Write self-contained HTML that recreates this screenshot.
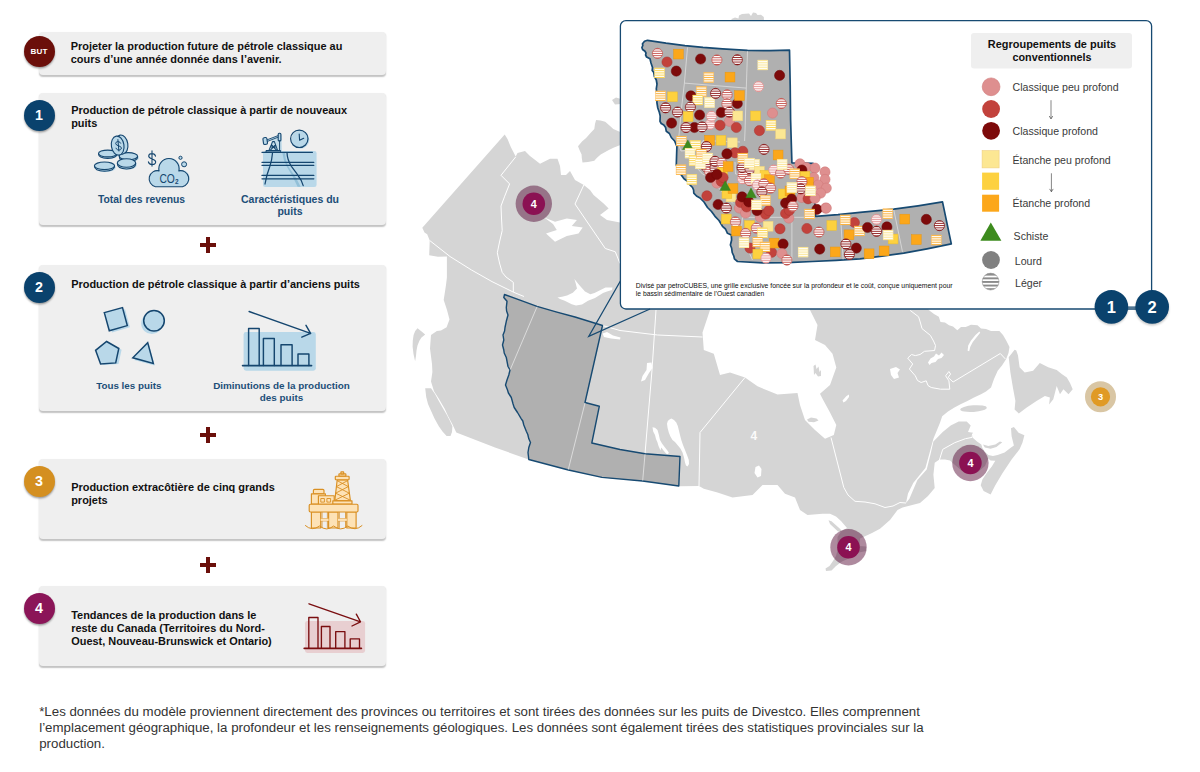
<!DOCTYPE html>
<html lang="fr">
<head>
<meta charset="utf-8">
<title>Production de pétrole classique</title>
<style>
html,body{margin:0;padding:0;background:#fff;}
body{width:1200px;height:772px;position:relative;overflow:hidden;font-family:"Liberation Sans",sans-serif;color:#111;}
.card{position:absolute;left:39.2px;width:347.2px;background:#efefef;border-radius:4px;box-shadow:0 1.6px 1.4px rgba(0,0,0,.24);}
.badge{position:absolute;left:23.5px;width:31px;height:31px;border-radius:50%;color:#fff;font-weight:bold;text-align:center;box-shadow:0 1.5px 2px rgba(0,0,0,.35);}
.t{position:absolute;left:71.2px;font-weight:bold;font-size:10.95px;line-height:13.2px;white-space:nowrap;color:#111;}
.lbl{position:absolute;font-weight:bold;font-size:10px;line-height:12px;color:#1c4e78;text-align:center;white-space:nowrap;}
.plus{position:absolute;left:199.9px;width:16px;height:16px;}
.plus:before{content:"";position:absolute;left:0;top:6.2px;width:16.1px;height:3.7px;background:#6b0f0a;}
.plus:after{content:"";position:absolute;left:6.2px;top:0;width:3.8px;height:16px;background:#6b0f0a;}
#foot{position:absolute;left:39.2px;top:704.3px;font-size:13.29px;line-height:16.05px;color:#333;white-space:nowrap;}
#gfx{position:absolute;left:0;top:0;}
</style>
</head>
<body>
<!-- cards -->
<div class="card" style="top:32px;height:43px"></div>
<div class="card" style="top:93px;height:132px"></div>
<div class="card" style="top:265px;height:146px"></div>
<div class="card" style="top:459px;height:80.3px"></div>
<div class="card" style="top:586px;height:79.7px"></div>

<div class="plus" style="top:237.2px"></div>
<div class="plus" style="top:427.1px"></div>
<div class="plus" style="top:557px"></div>

<!-- MAP-SVG -->
<svg id="gfx" width="1200" height="772" viewBox="0 0 1200 772">
<defs><filter id="blur" x="-30%" y="-30%" width="160%" height="160%"><feGaussianBlur stdDeviation="1.2"/></filter><filter id="blur2" x="-10%" y="-10%" width="120%" height="120%"><feGaussianBlur stdDeviation="0.45"/></filter></defs>
<g id="map"><path fill="#d5d5d5" d="M504.7,134.6 L507.5,139 L510.8,147 L515.7,156.5 L517.5,153 L525,151 L530,156 L540,163.8 L550,158.8 L557.5,158.8 L560,166 L561,175 L566,175 L570,171 L575,180 L583.8,185 L590,190 L593.6,195 L603.6,203.4 L608.6,208.4 L600,215 L607,220 L620,222.6 L700,222 L710,300 L710,310 L702.5,332.5 L703.8,350 L713.8,353.8 L720,375 L730,372.5 L745,377.5 L757.5,386.3 L777.5,394.5 L797.5,393 L800,405 L805,420 L815,430 L825,438.8 L833.8,435 L836.3,425 L830,412.5 L822.5,398.8 L820,393.8 L830,385 L836.3,367.5 L832.5,353.8 L825,345 L815,340 L817.5,325 L810,310 L810,300 L925,300 L928.7,310 L934,314 L938.8,316.8 L940.5,321.9 L945,322.5 L949,325.3 L953,326.5 L957.3,330.3 L961,327 L965.8,326.9 L971,324.8 L977.5,325.3 L981,328.6 L986,329 L991,331.1 L999.4,331.1 L1003,335 L1006.2,340.4 L1009.5,347.1 L1008.5,353 L1006.2,358.9 L1002,365.5 L997.7,370.7 L994,379 L991,387.5 L986,391.5 L981,394.3 L974,397.5 L967.4,401 L960.5,404.2 L954,407.7 L948,411.5 L942.2,416.2 L940,422.7 L933.4,438.7 L929.4,453.4 L925.4,468 L913.4,482.7 L908,493.4 L906,503 L909.4,498.7 L917.4,480 L926.7,469.4 L930.7,453.4 L933.4,441.4 L942.7,432 L950.7,425.4 L958.7,421.4 L966.7,421.4 L970.7,425.4 L968,432 L973.1,432.8 L972.5,437.5 L977,441.5 L981.3,444.5 L982.4,448 L985,452 L988.3,455 L992.9,456.1 L997.6,455 L1004.6,452.6 L1010.4,448 L1013.9,445.6 L1011.6,436.3 L1011,428.2 L1013.9,427 L1018.6,432.8 L1024.4,435.2 L1022.5,442.5 L1019.7,449.1 L1011.6,459.6 L1002.3,473.6 L995.3,485.3 L990.6,494.6 L983.6,491.1 L980.7,485.3 L982.4,479.4 L987.1,472.4 L991.8,466.6 L995.3,460.8 L990.5,460.5 L988.3,458.5 L985,466 L978,472 L971,474 L962,471 L955,465 L950,460.5 L945,459.4 L939.4,459.4 L934.7,462.7 L933.4,474.7 L934.7,488 L928,496 L920,503 L902.5,507.5 L897.5,510 L890,520 L880,528.8 L872,533 L865,536.3 L860,538.5 L859.5,546 L866,546.5 L866.2,551 L859,552.5 L852,557 L842,561.5 L836,566 L831.5,570.5 L826,571 L825.5,568.5 L829.5,566 L833,561 L836,556 L837.5,550 L837.5,537 L841,531.5 L847,528 L841,521 L836,516.5 L830,513.8 L822.5,513.8 L807.5,515 L800,510 L795,497.5 L785,493.8 L777.5,485 L762.5,485 L752.5,495 L732.5,497.5 L717.5,492.5 L703.8,488.8 L699,486 L679,486.3 L642.5,481 L602,477.4 L568.4,470 L528.6,459.5 L495,447.5 L456.3,432.5 L452.4,424.3 L448,416 L444.7,408.7 L439,399 L434,391.3 L431,381.6 L432.4,372 L432,364 L430,348.5 L431,335 L436.9,331 L441,330.5 L446.6,327.2 L449.5,319.4 L447,310 L443.7,300 L446,285 L446.9,277.4 L446.9,256.5 L438,256.8 L429.2,255.2 L429.7,240.5 L427.2,234.3 L424.5,232.5 L422.3,227.7Z"/>
<path fill="#d5d5d5" d="M425.2,388.3 L431,388.3 L435,394 L438.8,401 L442.5,407.5 L446.6,414.6 L449.5,420 L452.4,426.2 L452,432 L450.5,436 L446.6,436 L442.5,431.5 L438.8,426.2 L434.5,418.5 L431,410.7 L428,404 L426.2,397Z M417.5,328.2 L421,331 L425.2,334.6 L421.5,337.5 L419.4,340.8 L417.5,345.5 L416.5,350.5 L416,356 L415.1,361.2 L413.5,354 L412.6,346.6 L412.8,340.5 L413.6,335 L415.2,331Z M578,146.2 L582,141.5 L586.1,138.1 L590.5,133 L594.3,129 L595,124 L596.1,120 L600.5,120.6 L605.2,121.8 L609.5,125.5 L613.3,129 L619.7,131.7 L622,132 L622,145 L619.7,145.3 L614,147.5 L608.8,149.9 L600.7,154.4 L597,157.8 L594.3,160.8 L588,162 L582.5,162.6 L581.8,158 L581.6,154.4 L579.5,150Z M612,100 L616,97.6 L621,99 L621,104 L615,104.4Z M731.5,19 L735,17.5 L738.5,18.5 L739,15.5 L742,14 L749,13.6 L751,16 L753,12.6 L756,12.9 L757.5,15 L761,14.8 L763.8,17 L764,21 L731.5,21Z M1014.6,349.7 L1008.7,357.2 L1010.4,372.4 L1012.9,387.5 L1015.4,401 L1014.6,409.4 L1018.8,413.6 L1026.4,407.7 L1036.5,401 L1044.9,396 L1049.9,397.6 L1049.1,404.4 L1053.3,399.3 L1056.7,385.9 L1060,394.3 L1063.4,389.2 L1068.5,394.3 L1072.7,389.2 L1070,383 L1066.8,377.4 L1061.7,374.1 L1056.7,369.9 L1048.2,367.3 L1039.8,363.1 L1033.1,370.7 L1024.7,372.4 L1019.6,367.3 L1018,355.6 L1016.3,350.5Z M807,419.5 L811,417.6 L816.5,418.4 L818.5,420.4 L814,422.2 L808.5,421.8Z M813.5,366 L815.5,364.5 L816.5,369 L818.5,366.5 L819.5,372 L821,370 L821,376 L818,376.5 L815.5,373 L814,375Z M828.5,520.2 L831.5,521.3 L836,525.3 L840.5,529.3 L842,532 L838,531.5 L834,527.7 L830,524Z M983,444.5 L984.8,447.4 L990.6,448.8 L996.4,447 L1002.3,442.3 L999.9,441.4 L995.3,444.6 L988.3,445.9Z"/>
<ellipse cx="973.5" cy="408.6" rx="13.3" ry="3.3" fill="#d5d5d5" transform="rotate(-4 973.5 408.6)"/>
<path fill="#fff" d="M544.3,217.6 L555,221.8 L566.8,218.4 L576.9,220 L571.8,226 L582.7,227.6 L578.5,233.5 L566.8,236 L555,241.8 L546,233.5 L556.8,230 L553,224Z M557.5,297.6 L562,296.8 L567,295.6 L572.8,292.7 L577,288.6 L575.6,283 L574.4,279 L576.8,282 L579.2,285 L585,291.5 L590.3,294.2 L594.5,293 L598.5,291 L605.5,287.6 L612.5,287.6 L612,290 L607,291.6 L603,293 L599,295.6 L595,298 L588,300.8 L582,304.6 L576,305.4 L571.7,304.3 L564.7,300.8 L560,299Z M602.5,333.5 L607,332 L613,335.5 L620.5,337.5 L620,339.5 L611,338.5 L604,337Z M647,363 L651.5,362.5 L652.5,368 L649,373 L645,380 L641,381.5 L642.5,376 L646.5,370Z M669.5,419.6 L671.3,418.6 L674,420 L676.3,422.5 L677.8,426 L678.8,430 L680,435 L681.3,440 L683,445 L685,450 L687,455 L688.8,460 L689,464 L687.5,466.5 L686,465.5 L685,462.5 L684,457.5 L682.5,452.5 L680.4,448.5 L677.5,445 L675,442 L672.5,440 L670.4,436.5 L668.8,432.5 L667.6,428 L667,423.8 L667.8,421Z M652.5,427.3 L655,427.8 L657.5,430 L658.8,434.5 L660,440 L662,443.5 L665,447.5 L667,450 L668.8,452.5 L668,454.2 L666.3,453.8 L663.5,450.5 L661.3,447.5 L660.5,450.5 L658.5,446 L657.5,442.5 L656,439 L655,435 L653.2,431.5Z M755.5,467 L759,465.5 L761.5,469 L761,476 L757.5,477.5 L754.5,473Z M890,369 L896,367 L900,369.5 L897.5,373 L899,377.5 L894,379 L891,375Z M842.5,400.5 L846.5,396 L849,394.5 L849,397 L846,401 L843.5,402.5Z M967.6,350.8 L968.2,345.5 L971,340.5 L975.5,335 L979.4,331.6 L980.2,332.8 L976.8,337 L972.8,342 L970.2,347 L969.2,351.2Z M928,362.5 L930.5,358.5 L934,356.5 L936,353.5 L939,355.5 L941.5,352.5 L944,355 L941.5,358 L938,359 L935.5,362 L931.5,363 L929.5,365Z"/>
<path fill="none" stroke="#fff" stroke-width="1" stroke-linejoin="round" d="M515.7,156.9 L501,175.3 L509.6,183.9 L504.7,196.2 L501,206 L501.5,218 L502.2,230.6 L499.5,242 L497.3,252.8 L499.5,263 L502.2,272.4 L506,277 L513.3,282.3 L513.3,292.1 M429.7,240.5 L450,256.5 L471.5,270 L492,281.6 L513.3,292.1 L524,296.5 M602.5,325.5 L620,330.5 L657.5,335 L702.5,337 M583.8,185 L575,204 L605.3,248.5 L615.3,251.8 L620,263.5 M656,310 L652,370 L645,453.8 L642.5,481 M537,306.3 L510,370 M585,402.5 L568,470 M745,377.5 L700,432.5 L699,486 M831,437.5 L843.8,487.5 L848,495 L855,501.3 L865,502 L875,503.8 L885,507.5 L893,506 L900,502.5 L906,503 M910.2,310.4 L918.6,316.8 L920.5,323 L922,328.6 L930.4,335.4 L933.5,341 L935.5,345.5 L934.6,350.5 L924.5,351.3 L920,354.5 L915.3,355.6 L911.5,354.5 L907.7,358.1 L912.7,364 L909.4,369 L915.3,375.8 L917.5,380.5 L921.1,382.5 L926.2,380.8 L928,385.5 L931.2,387.5 L940.5,389.2 L949.8,389.2 L948.9,380.8 L945.6,375.8 L948.9,371.5 L950.6,374.1 L948.1,377.4 L953.1,382 L1000.3,353.5 L1005.3,358.9 M939.4,460 L942.7,449.4 L954.7,442.7 L965.4,438.7 L972,437.4 L972.7,433.4"/>
<path fill="#b0b0b0" stroke="#174a72" stroke-width="1.4" stroke-linejoin="round" d="M504.5,294.5 L520,300.2 L537,306.3 L556,311.8 L575,317 L602.5,325.5 L585,402.5 L599.3,406.3 L591.8,443 L620,449.5 L645,453.8 L680,456.5 L678.8,486 L642.5,481 L602,477.4 L568.4,470 L528.8,459.5 L528,452.5 L528.8,447.5 L530.5,442.5 L528.8,438.8 L527.8,434.5 L526.3,431.3 L523.8,425 L522.8,421 L521.3,418.8 L517.5,412.5 L514.2,407.5 L513,403.8 L511.3,397.5 L508.4,393 L507.5,390 L505.5,385 L507,380 L508.8,375 L510,370 L508,366.5 L507.5,363.8 L506.3,357.5 L504.2,353 L503.8,350 L502.5,345 L503.8,340 L503,335 L504.6,331 L505,327.5 L506.3,321.3 L508,315 L506.6,311 L506.3,307.5 L507,301.3 L503.8,297.5Z"/>
<path fill="none" stroke="#e6e6e6" stroke-width="0.8" d="M537,306.8 L510.3,369.5 M585,403 L568.3,469.5 M645,454.3 L642.7,480.5"/>
<text x="753.8" y="440" font-family="Liberation Sans, sans-serif" font-weight="bold" font-size="12" fill="#ffffff" fill-opacity=".92" text-anchor="middle">4</text>
</g>
<defs>
<clipPath id="cc"><circle r="5.2"/></clipPath>
<clipPath id="cq"><rect x="-5" y="-5" width="10" height="10"/></clipPath>
<g id="bands"><rect x="-6" y="-6" width="12" height="1.9"/><rect x="-6" y="-2.7" width="12" height=".9"/><rect x="-6" y="-0.45" width="12" height=".9"/><rect x="-6" y="1.8" width="12" height=".9"/><rect x="-6" y="4.1" width="12" height="1.9"/></g>
<g id="c1"><circle r="5.1" fill="#de8f8f" stroke="#cf7676" stroke-width=".5"/></g>
<g id="c2"><circle r="5.1" fill="#c2423c" stroke="#a93430" stroke-width=".5"/></g>
<g id="c3"><circle r="5.1" fill="#7d0a0a" stroke="#6c0808" stroke-width=".5"/></g>
<g id="s1"><circle r="5.2" fill="#fdf3f3"/><g clip-path="url(#cc)" fill="#e59a9a"><use href="#bands"/></g><circle r="5.1" fill="none" stroke="#d97f7f" stroke-width=".6"/></g>
<g id="s2"><circle r="5.2" fill="#fff"/><g clip-path="url(#cc)" fill="#c5524c"><use href="#bands"/></g><circle r="5.1" fill="none" stroke="#b8403b" stroke-width=".6"/></g>
<g id="s3"><circle r="5.2" fill="#fff"/><g clip-path="url(#cc)" fill="#8e1a1a"><use href="#bands"/></g><circle r="5.1" fill="none" stroke="#7d0a0a" stroke-width=".7"/></g>
<g id="q1"><rect x="-4.9" y="-4.9" width="9.8" height="9.8" fill="#fce793" stroke="#efd27c" stroke-width=".5"/></g>
<g id="q2"><rect x="-4.9" y="-4.9" width="9.8" height="9.8" fill="#fdd13f" stroke="#eabd33" stroke-width=".5"/></g>
<g id="q3"><rect x="-4.9" y="-4.9" width="9.8" height="9.8" fill="#fca71a" stroke="#e89712" stroke-width=".5"/></g>
<g id="t1"><rect x="-5" y="-5" width="10" height="10" fill="#fffdf3"/><g clip-path="url(#cq)" fill="#fbe596"><use href="#bands"/></g><rect x="-4.9" y="-4.9" width="9.8" height="9.8" fill="none" stroke="#fae59a" stroke-width=".5"/></g>
<g id="t2"><rect x="-5" y="-5" width="10" height="10" fill="#fffdf3"/><g clip-path="url(#cq)" fill="#fcd450"><use href="#bands"/></g><rect x="-4.9" y="-4.9" width="9.8" height="9.8" fill="none" stroke="#fcd65c" stroke-width=".5"/></g>
<g id="t3"><rect x="-5" y="-5" width="10" height="10" fill="#fffaf0"/><g clip-path="url(#cq)" fill="#fbb03a"><use href="#bands"/></g><rect x="-4.9" y="-4.9" width="9.8" height="9.8" fill="none" stroke="#fbb548" stroke-width=".5"/></g>
<g id="g"><path d="M0,-5.4 L5.3,4.2 L-5.3,4.2Z" fill="#3d8b1e" stroke="#347a18" stroke-width=".4"/></g>
</defs>
<g id="inset">
<rect x="620.4" y="20.6" width="531.2" height="288.4" rx="5.5" fill="#fff" stroke="#174a72" stroke-width="1.3"/>
<path d="M620.4,281 L588.8,336.3 L650,309" fill="none" stroke="#174a72" stroke-width="1.3" stroke-linejoin="miter"/>
<path d="M647.5,40.3 L666,43.2 L685,45.6 L703,47.4 L722.5,48.8 L747.5,50.4 L770,50.6 L789.5,50.2 L790.2,85 L790.6,120 L791.9,162.8 L813.1,163.3 L815,205 L815.6,216.3 L838,214.6 L860,212.3 L893.8,209.2 L918,205.8 L942.5,201.9 L951.3,243.8 L927,248.8 L903.8,253.1 L882,256.2 L860,258.8 L836,260.4 L812.5,261.5 L787.5,262.6 L762.5,262.8 L737.5,261.5 L734.4,258.8 L733.8,256 L732.2,252.5 L731.6,248 L730.4,245 L731.6,240 L731.3,235 L727.5,233.3 L725.5,229 L722.5,226.3 L719,220.5 L715,216.3 L711.5,211.5 L707.5,207.5 L704,202 L700,198 L696.5,196 L693.8,193.1 L693.6,190 L692.5,187.5 L689.5,184.5 L687.5,181.3 L684,178.8 L681.3,175 L678.4,170.5 L676.3,165 L676.6,155 L676.9,146.3 L674.6,141 L671.3,137.5 L669.4,133.5 L666.3,131.3 L665.6,127.5 L663.8,125 L661.2,123.5 L660,121.3 L660.2,116 L659.4,112.5 L657.8,108 L656.9,102.5 L657.2,96 L656.3,88.8 L657,84 L656.3,80 L654.4,76.5 L653.8,72.5 L652.2,70.5 L652.5,67.5 L651,63 L650,58.8 L646.6,57 L645.6,55 L646,53 L645,51.3 L642.6,49.5 L641.9,47.5 L642.8,45.5 L642.5,43.8 L644.5,41.3Z" fill="#b0b0b0" stroke="#174a72" stroke-width="1.7" stroke-linejoin="round"/>
<path d="M687.5,47.5 L684.4,83.1 L681.3,110 L679.4,131 L678.2,143 M684.4,83.1 L746.3,88.1 M747.5,51.3 L746.3,88.1 L745,131 L744.6,141 M742.5,217.3 L803.8,217.3 M791.9,217.5 L791.9,261.3 M840.6,216.3 L843.1,259.4 M893.8,210 L902.5,251.9 M742.5,217.3 L741.3,230 L746,245 L752.5,260 M782.5,208 L782.5,217.3 M678.2,143 L681,151 L697,149.5 L703,140.5 L740,142 M697,168 L703,174.5 L706,175 M735,162 L735.5,174 L744,174.5 M718,187 L722,192 L733,203.5" fill="none" stroke="#dedede" stroke-width=".8"/>
<g id="mk"><use href="#s2" x="657.5" y="53.4"/><use href="#q3" x="678.5" y="54.1"/><use href="#c2" x="667" y="62"/><use href="#c3" x="676.3" y="71.1"/><use href="#t2" x="659.5" y="72.9"/><use href="#c3" x="700.6" y="59"/><use href="#s2" x="716.9" y="60"/><use href="#s3" x="737.3" y="59.8"/><use href="#t3" x="708.8" y="77.5"/><use href="#q3" x="730" y="77.1"/><use href="#t1" x="762.8" y="65"/><use href="#c3" x="779.6" y="75.4"/><use href="#s1" x="758.5" y="86.5"/><use href="#t3" x="660.6" y="95.9"/><use href="#q2" x="672.5" y="96.8"/><use href="#c3" x="690.9" y="95.9"/><use href="#t3" x="701.3" y="91.5"/><use href="#t2" x="697.8" y="100"/><use href="#t1" x="709.6" y="102.5"/><use href="#s3" x="715.6" y="93.4"/><use href="#c3" x="737.3" y="103.5"/><use href="#s2" x="727.1" y="94.8"/><use href="#q3" x="739.4" y="95.6"/><use href="#s2" x="726.9" y="103.8"/><use href="#s3" x="665.6" y="107.8"/><use href="#s3" x="677.5" y="112.1"/><use href="#s3" x="690.4" y="107.1"/><use href="#q2" x="688.1" y="116.6"/><use href="#c3" x="699.6" y="115"/><use href="#c1" x="729.4" y="121.3"/><use href="#s1" x="710" y="124.4"/><use href="#s1" x="711.5" y="116.3"/><use href="#c3" x="721.3" y="112.5"/><use href="#s3" x="729.4" y="112.1"/><use href="#q1" x="737.8" y="115.9"/><use href="#q2" x="755.6" y="115.9"/><use href="#c1" x="772.5" y="113.1"/><use href="#s2" x="781.3" y="103.5"/><use href="#c3" x="671.6" y="123.1"/><use href="#c3" x="694.4" y="127.5"/><use href="#s3" x="686" y="127.5"/><use href="#s3" x="702.1" y="126.9"/><use href="#c2" x="720" y="125.3"/><use href="#c2" x="736.3" y="127.5"/><use href="#t2" x="771" y="125.3"/><use href="#c2" x="759.4" y="130.6"/><use href="#q1" x="780.6" y="134"/><use href="#t3" x="681.3" y="141"/><use href="#t2" x="695.4" y="145.6"/><use href="#g" x="687.8" y="145.3"/><use href="#q3" x="709.6" y="140.3"/><use href="#q2" x="721" y="140.3"/><use href="#q1" x="732.3" y="142.8"/><use href="#s3" x="706.5" y="146.5"/><use href="#s3" x="764" y="149.4"/><use href="#c2" x="742.8" y="151.3"/><use href="#c2" x="735" y="152.8"/><use href="#c3" x="726.9" y="153.8"/><use href="#q3" x="778.1" y="155"/><use href="#s3" x="706.3" y="166.9"/><use href="#t1" x="690" y="153.1"/><use href="#t2" x="694" y="160.6"/><use href="#t3" x="701.3" y="154"/><use href="#t1" x="700.3" y="163.8"/><use href="#t1" x="707.5" y="158.1"/><use href="#s2" x="709.6" y="171.9"/><use href="#s3" x="715" y="168.1"/><use href="#s3" x="715" y="161.3"/><use href="#s2" x="721.9" y="163.1"/><use href="#q2" x="722.5" y="172.5"/><use href="#q3" x="728.1" y="166.5"/><use href="#s1" x="742.5" y="178.8"/><use href="#s2" x="743.1" y="174.4"/><use href="#s2" x="749.4" y="180.6"/><use href="#s3" x="742.1" y="167.5"/><use href="#s3" x="750" y="168.8"/><use href="#t3" x="742.8" y="158.1"/><use href="#t1" x="754.4" y="164.4"/><use href="#t1" x="749.4" y="163.1"/><use href="#q1" x="759.4" y="171.3"/><use href="#q2" x="765" y="175.3"/><use href="#q3" x="769.4" y="179.7"/><use href="#t1" x="756" y="178.3"/><use href="#s1" x="773.8" y="170"/><use href="#s2" x="780.6" y="173.1"/><use href="#s2" x="788.8" y="169.4"/><use href="#t1" x="782.1" y="164.4"/><use href="#t3" x="681" y="169.8"/><use href="#t2" x="691.9" y="179.4"/><use href="#c1" x="716.9" y="183.1"/><use href="#c2" x="721.3" y="181.3"/><use href="#c2" x="723.1" y="177.5"/><use href="#c3" x="710.6" y="177.5"/><use href="#c3" x="716.9" y="174.4"/><use href="#q1" x="731" y="196.9"/><use href="#q2" x="726.9" y="193.5"/><use href="#q3" x="733" y="188.6"/><use href="#g" x="725.2" y="186.2"/><use href="#s1" x="757.5" y="185"/><use href="#s2" x="763.8" y="183.8"/><use href="#s2" x="770.6" y="188.1"/><use href="#s3" x="761.9" y="191.9"/><use href="#c1" x="800" y="163.8"/><use href="#c1" x="806.3" y="167.5"/><use href="#c1" x="815" y="168.1"/><use href="#c1" x="825" y="171.9"/><use href="#c1" x="813.8" y="177.5"/><use href="#c1" x="825" y="179.4"/><use href="#c1" x="818.1" y="185"/><use href="#c1" x="826.3" y="188.1"/><use href="#c1" x="820.6" y="193.1"/><use href="#c1" x="801.9" y="197.5"/><use href="#c2" x="808.1" y="198.8"/><use href="#c1" x="815" y="198.3"/><use href="#c1" x="825.6" y="208.1"/><use href="#c3" x="801.9" y="170"/><use href="#q2" x="805" y="176.3"/><use href="#t3" x="794.8" y="173.8"/><use href="#q3" x="808.4" y="182.2"/><use href="#s2" x="801.9" y="181.6"/><use href="#s3" x="800.8" y="188.8"/><use href="#q2" x="783.5" y="193.9"/><use href="#q3" x="790" y="190.9"/><use href="#t1" x="791.9" y="187.6"/><use href="#t1" x="810.4" y="190.9"/><use href="#c2" x="706.9" y="195.8"/><use href="#c3" x="718.1" y="204.5"/><use href="#s3" x="726.3" y="208.1"/><use href="#c1" x="739.4" y="208.1"/><use href="#c1" x="745.6" y="213.1"/><use href="#c2" x="740.6" y="202.5"/><use href="#c2" x="746.6" y="206.9"/><use href="#c3" x="742.1" y="196.9"/><use href="#c3" x="748.8" y="201.9"/><use href="#g" x="751" y="193.5"/><use href="#c1" x="760.3" y="217.2"/><use href="#c2" x="765.6" y="214.1"/><use href="#c2" x="768.8" y="210.6"/><use href="#c3" x="757" y="210.6"/><use href="#t3" x="765.3" y="200.4"/><use href="#t1" x="756.5" y="204.9"/><use href="#c1" x="788.8" y="218.1"/><use href="#c2" x="785.6" y="213.5"/><use href="#c2" x="789.4" y="210.3"/><use href="#c3" x="785.6" y="203.1"/><use href="#c3" x="791.6" y="199.1"/><use href="#s2" x="792.9" y="206.3"/><use href="#c3" x="816.9" y="209.4"/><use href="#c1" x="826.3" y="208.1"/><use href="#t3" x="809.6" y="214"/><use href="#q2" x="726.3" y="219"/><use href="#s2" x="735.4" y="221.9"/><use href="#q3" x="736.6" y="231"/><use href="#q2" x="749.4" y="225.6"/><use href="#s2" x="756.3" y="228.1"/><use href="#q1" x="768.1" y="226.3"/><use href="#t2" x="762.5" y="232.8"/><use href="#s2" x="745.6" y="233.4"/><use href="#c2" x="780" y="228.8"/><use href="#c2" x="750" y="248.1"/><use href="#t1" x="744" y="242.8"/><use href="#t3" x="757.8" y="242.1"/><use href="#c2" x="771.6" y="252.3"/><use href="#q3" x="774.1" y="243.1"/><use href="#t3" x="765" y="246.9"/><use href="#c3" x="783.1" y="244"/><use href="#q2" x="757.8" y="254"/><use href="#c1" x="781.9" y="253.5"/><use href="#s1" x="766" y="258.1"/><use href="#s2" x="786.9" y="260"/><use href="#c2" x="806.9" y="228.5"/><use href="#s2" x="818.9" y="232.1"/><use href="#q2" x="831.8" y="225.5"/><use href="#t1" x="803.1" y="252.1"/><use href="#c3" x="819.7" y="249.1"/><use href="#q3" x="835.2" y="251.9"/><use href="#c2" x="854.4" y="222.5"/><use href="#t3" x="845.2" y="219.9"/><use href="#q3" x="849" y="234.8"/><use href="#t3" x="859.4" y="231"/><use href="#c3" x="867.5" y="227.5"/><use href="#s1" x="876.5" y="219.4"/><use href="#c3" x="886.9" y="226.9"/><use href="#s3" x="876.6" y="231.3"/><use href="#t3" x="887.8" y="213.8"/><use href="#q2" x="893.1" y="239"/><use href="#t1" x="888.1" y="235"/><use href="#c3" x="856.3" y="248.1"/><use href="#s3" x="845.9" y="244"/><use href="#s3" x="849.4" y="254.4"/><use href="#q3" x="869.1" y="253.8"/><use href="#q3" x="884.1" y="250.9"/><use href="#q3" x="904.8" y="219.1"/><use href="#c3" x="926.3" y="219.4"/><use href="#s3" x="939.4" y="225.6"/><use href="#q3" x="916.3" y="239.6"/><use href="#t3" x="936.3" y="240"/></g>
<text font-family="Liberation Sans, sans-serif" font-size="6.45" fill="#0d0d0d" x="635.8" y="288" textLength="316.7" lengthAdjust="spacingAndGlyphs">Divisé par petroCUBES, une grille exclusive foncée sur la profondeur et le coût, conçue uniquement pour</text>
<text font-family="Liberation Sans, sans-serif" font-size="6.45" fill="#0d0d0d" x="635.8" y="295.8" textLength="128.4" lengthAdjust="spacingAndGlyphs">le bassin sédimentaire de l’Ouest canadien</text>
<rect x="971" y="33" width="161" height="35.5" rx="3" fill="#efefef"/>
<g font-family="Liberation Sans, sans-serif" font-weight="bold" font-size="10.4" fill="#111" text-anchor="middle"><text x="1052" y="47.6" textLength="128.3" lengthAdjust="spacingAndGlyphs">Regroupements de puits</text><text x="1052" y="60.9" textLength="79" lengthAdjust="spacingAndGlyphs">conventionnels</text></g>
<circle cx="991.1" cy="86.8" r="8.9" fill="#de8f8f" stroke="#cf7676" stroke-width=".6"/><circle cx="991.1" cy="109" r="8.9" fill="#c2423c"/><circle cx="991.1" cy="130.8" r="8.9" fill="#7d0a0a"/>
<rect x="982.1" y="150.6" width="17" height="17.3" fill="#fce793" stroke="#efcf80" stroke-width=".6"/><rect x="982.1" y="172.6" width="17" height="17.2" fill="#fdd13f"/><rect x="982.1" y="194.7" width="17" height="17" fill="#fca71a"/>
<path d="M990.8,222.6 L1001.4,240.8 L980.4,240.8Z" fill="#3d8b1e"/>
<circle cx="991" cy="260" r="8.9" fill="#808080"/>
<clipPath id="lc"><circle cx="990.6" cy="281.6" r="8.5"/></clipPath><circle cx="990.6" cy="281.6" r="8.5" fill="#fff"/><g clip-path="url(#lc)" fill="#8c8c8c"><rect x="980" y="273" width="22" height="2.6"/><rect x="980" y="277.4" width="22" height="1.9"/><rect x="980" y="281" width="22" height="1.9"/><rect x="980" y="284.6" width="22" height="1.9"/><rect x="980" y="288.2" width="22" height="2.5"/></g><circle cx="990.6" cy="281.6" r="8.4" fill="none" stroke="#9a9a9a" stroke-width=".6"/>
<g font-family="Liberation Sans, sans-serif" font-size="10.6" fill="#3a3a3a"><text x="1012.6" y="90.5">Classique peu profond</text><text x="1012.6" y="134.8">Classique profond</text><text x="1012.4" y="164">Étanche peu profond</text><text x="1012.4" y="206.9">Étanche profond</text><text x="1013.6" y="240.2">Schiste</text><text x="1014.8" y="264.7">Lourd</text><text x="1015" y="286.9">Léger</text></g>
<path d="M1051,100.2 V118.6 M1049.2,116 L1051,118.9 L1052.8,116 M1051.4,173.3 V191.5 M1049.6,188.9 L1051.4,191.8 L1053.2,188.9" fill="none" stroke="#333" stroke-width=".6"/>
<path d="M1111,307.2 H1152" stroke="#174a72" stroke-width="1.3"/>
<g><circle cx="1111.3" cy="308.6" r="16.4" fill="#000" opacity=".22" filter="url(#blur)"/><circle cx="1152.2" cy="308.6" r="16.8" fill="#000" opacity=".22" filter="url(#blur)"/><circle cx="1111.4" cy="306.9" r="16.8" fill="#0a426d"/><circle cx="1152.2" cy="306.9" r="16.8" fill="#0a426d"/></g>
<g font-family="Liberation Sans, sans-serif" font-weight="bold" font-size="16.5" fill="#fff" text-anchor="middle"><text x="1111.4" y="312.7">1</text><text x="1152.2" y="312.7">2</text></g>
</g>
<g id="mm" font-family="Liberation Sans, sans-serif" font-weight="bold" fill="#fff" text-anchor="middle">
<circle cx="533.8" cy="203.7" r="18.2" fill="#4d012e" fill-opacity=".46" filter="url(#blur2)"/><circle cx="533.8" cy="203.7" r="11.3" fill="#8b1153"/><text x="533.8" y="207.6" font-size="10.8">4</text>
<circle cx="970.4" cy="463" r="18.2" fill="#4d012e" fill-opacity=".46" filter="url(#blur2)"/><circle cx="970.4" cy="463" r="11.3" fill="#8b1153"/><text x="970.4" y="466.9" font-size="10.8">4</text>
<circle cx="848.5" cy="547.2" r="18.2" fill="#4d012e" fill-opacity=".46" filter="url(#blur2)"/><circle cx="848.5" cy="547.2" r="11.3" fill="#8b1153"/><text x="848.5" y="551.1" font-size="10.8">4</text>
<circle cx="1100.5" cy="396.8" r="15.5" fill="#d9c6a4" filter="url(#blur2)"/><circle cx="1100.5" cy="396.8" r="9.6" fill="#e09a25"/><text x="1100.5" y="400.1" font-size="9.3">3</text>
</g>
<g id="coins"><g fill="#b9d8e9" stroke="none" transform="translate(1,0.8)"><ellipse cx="107.7" cy="154.2" rx="9.4" ry="4"/><ellipse cx="104.5" cy="166.8" rx="10.3" ry="4.5"/><ellipse cx="128.4" cy="157" rx="9.6" ry="4.3"/><ellipse cx="126.5" cy="164" rx="9.4" ry="5"/><ellipse cx="119.5" cy="145.2" rx="7.6" ry="10" transform="rotate(-9 119.5 145.2)"/></g><g fill="none" stroke="#15466f" stroke-width="1.1"><ellipse cx="107.7" cy="153.5" rx="9.2" ry="3.4" fill="#b9d8e9"/><path d="M98.5,153.8 Q98.6,158.4 107.7,158.4 Q116.8,158.4 116.9,153.8"/><ellipse cx="128.4" cy="156.2" rx="9.2" ry="3.6" fill="#b9d8e9"/><path d="M119.2,156.5 Q119.3,161.4 128.4,161.4 Q137.6,161.4 137.6,156.5"/><ellipse cx="126.5" cy="163" rx="9.2" ry="4.2" fill="#b9d8e9"/><path d="M117.3,163.3 Q117.4,169 126.5,169 Q135.6,169 135.7,163.3"/><ellipse cx="104.5" cy="165.8" rx="10.1" ry="3.8" fill="#b9d8e9"/><path d="M94.4,166.1 Q94.5,171.2 104.5,171.2 Q114.5,171.2 114.6,166.1"/><g transform="rotate(-9 119 145)"><ellipse cx="121.6" cy="145" rx="6.3" ry="9.6" fill="#b9d8e9"/><ellipse cx="117.6" cy="145.4" rx="6.3" ry="9.6" fill="#b9d8e9"/></g></g><path d="M117.9,139.6 L118.9,151 M120.7,143.2 C120,140.8 115.6,141 115.7,143.6 C115.8,146.2 121.3,145.4 121.4,148 C121.5,150.6 116.6,150.8 116,148.2" fill="none" stroke="#15466f" stroke-width="1" stroke-linecap="round"/></g>
<g id="cloud"><path d="M155.4,186.7 A8,8 0 1 1 159.1,170.9 A10.1,10.1 0 1 1 178.8,170.9 A7.8,7.8 0 1 1 182.5,186.7Z" fill="#b9d8e9" transform="translate(1,-0.6)"/><path d="M155.4,186.7 A8,8 0 1 1 159.1,170.9 A10.1,10.1 0 1 1 178.8,170.9 A7.8,7.8 0 1 1 182.5,186.7Z" fill="#b9d8e9" stroke="#15466f" stroke-width="1.1" stroke-linejoin="round"/><circle cx="180.5" cy="157.8" r="1.6" fill="#b9d8e9" stroke="#15466f" stroke-width="1"/><circle cx="184.1" cy="164.3" r="2.5" fill="#b9d8e9" stroke="#15466f" stroke-width="1"/><path d="M152,150.9 V166.1 M155.5,156.1 C154.8,153 148.9,152.6 148.7,156 C148.5,159.5 155.7,158.5 155.7,162 C155.7,165.5 148.9,165.2 148.4,161.8" fill="none" stroke="#15466f" stroke-width="1.1" stroke-linecap="round"/><text x="159.4" y="182.9" font-family="Liberation Sans, sans-serif" font-size="12.2" fill="#15466f" textLength="15.4" lengthAdjust="spacingAndGlyphs">CO</text><text x="174.9" y="184.3" font-family="Liberation Sans, sans-serif" font-weight="bold" font-size="6.4" fill="#15466f">2</text></g>
<g id="pump"><rect x="263" y="151" width="53.6" height="36" rx="2.2" fill="#b9d8e9"/><path d="M282.4,153 Q283,160 287,167 Q293,176 297.6,186.8 L300.6,186.8 Q297,178 291,170.5 Q285.5,163 285,153Z" fill="#93c0d8"/><circle cx="300.3" cy="139.7" r="9" fill="#b9d8e9"/><path d="M268,151 L272,140 L281.5,134.5 L282,151Z" fill="#b9d8e9" opacity=".8"/><g fill="none" stroke="#15466f" stroke-width="1.35" stroke-linecap="round" stroke-linejoin="round"><path d="M262,152.3 H312.4 M262,162.3 H313.8 M262,165.3 H313.8 M262,175.4 H313.8 M262,178.8 H313.8"/><path d="M272.5,153 Q272,160 269.8,166.5 Q266.5,175 265,184" stroke-width="1.25"/><path d="M287,152.6 Q287.2,160 291.4,166.3 Q297.5,174 301.2,180.4 L303.2,185.6" stroke-width="1.25"/><circle cx="299.3" cy="138.8" r="8.7" stroke-width="1.2"/><path d="M299.2,134 L299.6,140.3 L303.7,138.2" stroke-width="1.1"/><path d="M266.4,151.9 H280.6 V150.5 H266.4Z" fill="#b9d8e9" stroke-width="1"/><path d="M269,150.4 L272.6,141.6 L274.4,141.6 L277.6,150.4 M270.4,147 H276.4 M270.4,150.2 L275.6,144.6 M276.4,150.2 L271.4,144.6" stroke-width="1.05"/><path d="M266.6,140 L279.2,135.2 L279.6,136.6 L267,141.6Z" fill="#b9d8e9" stroke-width=".9"/><rect x="263.2" y="137.6" width="4" height="6.8" rx="1.3" fill="#b9d8e9" transform="rotate(-8 265.2 141)" stroke-width="1.1"/><rect x="278.2" y="133.3" width="2.7" height="7.6" rx="1" fill="#b9d8e9" stroke-width="1.1"/><path d="M279.6,141 V150.4" stroke-width="1"/></g></g>
<g id="shapes"><g fill="#b9d8e9"><polygon points="104.3,312.6 122.5,307.6 127.3,325.6 109.3,330.8" transform="translate(2.6,1.6)"/><circle cx="151.8" cy="323.4" r="10.6"/><polygon points="106.6,341.5 118.8,348.5 115.7,362.9 100.6,363.9 95.6,350.3" transform="translate(2.8,1.2)"/><polygon points="147.7,342.6 153.3,363.4 132.8,357.8" transform="translate(1.4,2.2)"/></g><g fill="#b9d8e9" stroke="#15466f" stroke-width="1.5" stroke-linejoin="miter"><polygon points="104.3,312.6 122.5,307.6 127.3,325.6 109.3,330.8"/><circle cx="154" cy="320.7" r="10.3"/><polygon points="106.6,341.5 118.8,348.5 115.7,362.9 100.6,363.9 95.6,350.3"/><polygon points="147.7,342.6 153.3,363.4 132.8,357.8"/></g></g>
<g id="chartb"><rect x="243.6" y="332" width="72.2" height="38.7" rx="2.4" fill="#b9d8e9"/><g fill="none" stroke="#15466f" stroke-width="1.45" stroke-linecap="round" stroke-linejoin="round"><path d="M248.6,365.6 V328.4 H259.2 V365.6"/><path d="M263.4,365.6 V338.5 H274.3 V365.6"/><path d="M281,365.6 V344.8 H292.1 V365.6"/><path d="M298,365.6 V353.9 H308.9 V365.6"/><path d="M242.6,365.6 H311.5" stroke-width="1.75"/><path d="M249.1,311.5 L310.6,333.4 M306,325.3 L310.6,333.4 L301.8,337.1"/></g></g>
<g id="chartr"><rect x="305" y="620.9" width="60.1" height="32.1" rx="2.4" fill="#e8cfd1"/><g fill="none" stroke="#7a0e10" stroke-width="1.35" stroke-linecap="round" stroke-linejoin="round"><path d="M308.8,648.4 V617.5 H318 V648.4"/><path d="M321.4,648.4 V626.5 H330 V648.4"/><path d="M335.7,648.4 V631.6 H344.9 V648.4"/><path d="M350.2,648.4 V638.9 H359.5 V648.4"/><path d="M304.2,648.4 H361.4" stroke-width="1.6500000000000001"/><path d="M309,603.8 L360.5,621.8 M356.3,614.1 L360.5,621.8 L352,626"/></g></g>
<g id="rig"><g fill="#fde2b6" stroke="#d98f22" stroke-width="1.15" stroke-linejoin="round"><rect x="311.4" y="512" width="9.3" height="16" /><rect x="328.6" y="512" width="9.4" height="16"/><rect x="346.8" y="512" width="9.3" height="16"/><path d="M320.7,518.6 H328.6 M320.7,520.9 H328.6 M338,518.6 H346.8 M338,520.9 H346.8 M322,512 V528 M327.4,512 V528 M339.3,512 V528 M345.5,512 V528" fill="none" stroke-width=".8"/><rect x="320.7" y="518.6" width="7.9" height="2.3" stroke="none"/><rect x="338" y="518.6" width="8.8" height="2.3" stroke="none"/><rect x="313.4" y="489.3" width="10.6" height="4.6" rx="1.2"/><rect x="311.4" y="493.8" width="14" height="10.4"/><rect x="318.4" y="495.7" width="15.8" height="8.5"/><rect x="320.8" y="498.5" width="3.6" height="3.6" stroke-width=".9"/><rect x="326.9" y="498.5" width="3.7" height="3.6" stroke-width=".9"/><path d="M334.8,500.6 L337.2,479.8 H347.6 L350.4,500.6Z"/><path d="M337.1,480.6 L348.3,486.6 M347.7,480.6 L336.4,486.6 M336.4,486.6 L349.3,493.2 M348.3,486.6 L335.6,493.2 M335.6,493.2 L350.3,500.2 M349.3,493.2 L334.9,500.2" fill="none" stroke-width=".9"/><rect x="332.8" y="500.8" width="19.2" height="3.4"/><rect x="335.3" y="476.2" width="13.8" height="3.5" rx=".6"/><rect x="338.9" y="473.9" width="7" height="2.3" rx=".5"/><rect x="340.9" y="471.9" width="2.8" height="2" rx=".4"/><rect x="309.2" y="504.2" width="48.8" height="7.8" rx="1.2"/></g><path d="M305.4,525.6 Q312,531.6 319.6,526 Q326.6,531.8 333.6,526 Q340.6,531.8 347.8,526 Q355,531.8 362,525.6" fill="none" stroke="#d98f22" stroke-width="1" stroke-linecap="round"/></g>
</svg>

<div class="badge" style="top:35.5px;background:#6b0f0a;font-size:8.1px;line-height:31px;letter-spacing:.1px">BUT</div>
<div class="badge" style="top:100.3px;background:#0a426d;font-size:14.3px;line-height:31px">1</div>
<div class="badge" style="top:271.5px;background:#0a426d;font-size:14.3px;line-height:31px">2</div>
<div class="badge" style="top:465.7px;background:#d48f20;font-size:14.3px;line-height:31px">3</div>
<div class="badge" style="top:593px;background:#8b1558;font-size:14.3px;line-height:31px">4</div>

<div class="t" style="top:39.7px;left:70.7px">Projeter la production future de pétrole classique au<br>cours d’une année donnée dans l’avenir.</div>
<div class="t" style="top:104px">Production de pétrole classique à partir de nouveaux<br>puits</div>
<div class="t" style="top:277.5px">Production de pétrole classique à partir d’anciens puits</div>
<div class="t" style="top:480.5px">Production extracôtière de cinq grands<br>projets</div>
<div class="t" style="top:608.5px">Tendances de la production dans le<br>reste du Canada (Territoires du Nord-<br>Ouest, Nouveau-Brunswick et Ontario)</div>

<div class="lbl" style="left:91.5px;width:100px;top:194px;font-size:10.35px">Total des revenus</div>
<div class="lbl" style="left:230px;width:120px;top:192.8px;font-size:10.5px">Caractéristiques du<br>puits</div>
<div class="lbl" style="left:78.8px;width:100px;top:379.8px;font-size:9.8px">Tous les puits</div>
<div class="lbl" style="left:201.5px;width:160px;top:379.8px;font-size:9.9px">Diminutions de la production<br>des puits</div>

<div id="foot">*Les données du modèle proviennent directement des provinces ou territoires et sont tirées des données sur les puits de Divestco. Elles comprennent<br>l’emplacement géographique, la profondeur et les renseignements géologiques. Les données sont également tirées des statistiques provinciales sur la<br>production.</div>
</body>
</html>
